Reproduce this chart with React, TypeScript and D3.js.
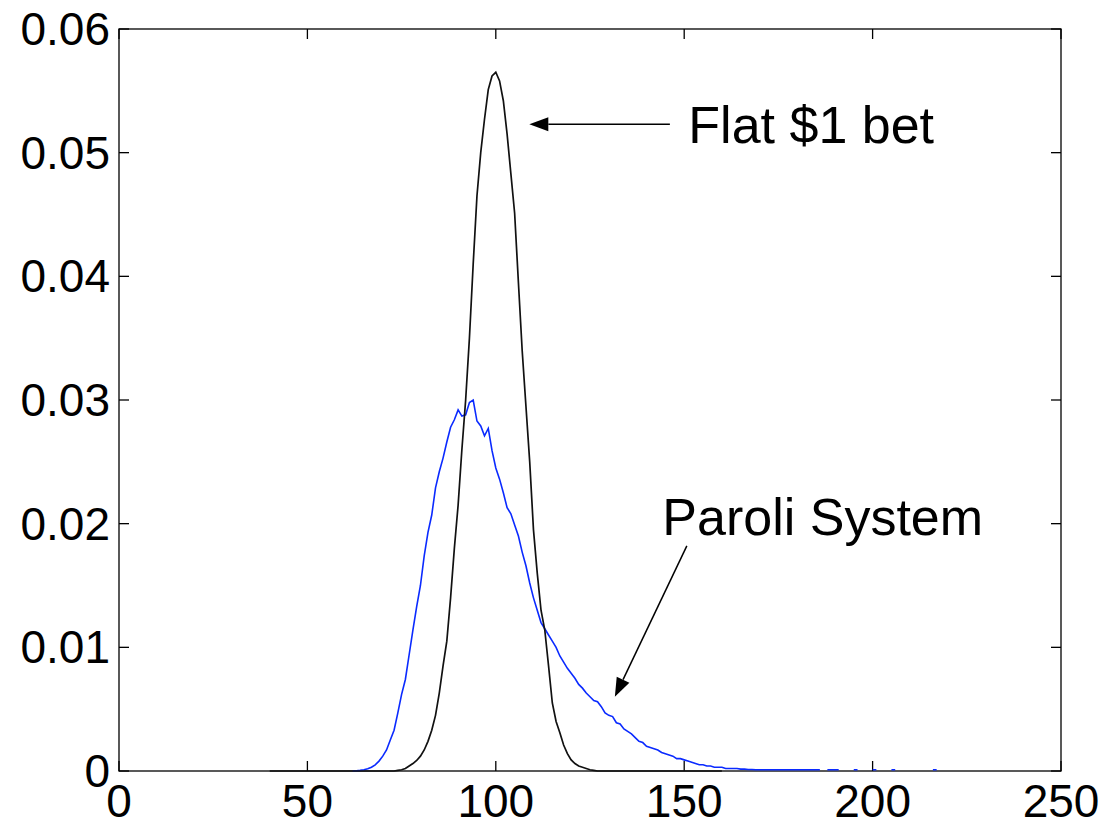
import React, { useEffect, useRef } from "react";
import * as d3 from "d3";

// tick values
const xTicks = [0, 50, 100, 150, 200, 250];
const yTicks = [0, 0.01, 0.02, 0.03, 0.04, 0.05, 0.06];
const yTickLabels = ["0", "0.01", "0.02", "0.03", "0.04", "0.05", "0.06"];

// flat $1 bet distribution, one value per integer bankroll starting at flatStart
const flatStart = 40;
const flatValues = [
  0, 0, 0, 0, 0, 0, 0, 0, 0, 0,
  0, 0, 0, 0, 0, 0, 0, 0, 0, 0,
  0, 0, 0, 0, 0, 0, 0, 0, 0, 0,
  0, 0, 0, 0, 0.00005, 0.0001, 0.0002, 0.0004, 0.0006, 0.00085,
  0.0012, 0.0017, 0.0024, 0.0033, 0.0045, 0.0063, 0.0085, 0.0105, 0.014, 0.018,
  0.0215, 0.026, 0.03, 0.035, 0.041, 0.0465, 0.05, 0.0527, 0.0551, 0.0562,
  0.0565, 0.0558, 0.0542, 0.0515, 0.0483, 0.0451, 0.0395, 0.034, 0.0295, 0.025,
  0.0195, 0.016, 0.013, 0.0114, 0.0085, 0.0055, 0.004, 0.0031, 0.0021, 0.0014,
  0.0009, 0.0006, 0.0004, 0.0003, 0.0002, 0.0001, 0.00005, 0, 0, 0,
  0, 0, 0, 0, 0, 0, 0, 0, 0, 0,
  0, 0, 0, 0, 0, 0, 0, 0, 0, 0,
  0, 0, 0, 0, 0, 0, 0, 0, 0, 0,
  0,
];

// paroli system distribution (null = no samples there)
const paroliStart = 62;
const paroliValues = [
  0, 0.00002, 0.00005, 0.0001, 0.00018, 0.0003, 0.0005, 0.0008, 0.0012, 0.0017,
  0.0025, 0.0033, 0.0047, 0.0062, 0.0074, 0.0094, 0.0114, 0.0133, 0.015, 0.0174,
  0.0193, 0.0207, 0.0229, 0.0242, 0.0253, 0.0266, 0.0278, 0.0284, 0.0292, 0.0287,
  0.0288, 0.0298, 0.03, 0.0283, 0.0279, 0.0271, 0.0277, 0.0259, 0.0245, 0.0236,
  0.0225, 0.0213, 0.0208, 0.0199, 0.019, 0.0177, 0.0166, 0.0152, 0.014, 0.013,
  0.012, 0.0115, 0.011, 0.0105, 0.01, 0.0093, 0.0088, 0.0083, 0.0079, 0.0075,
  0.007, 0.0067, 0.0063, 0.006, 0.0057, 0.0056, 0.0052, 0.0047, 0.0045, 0.0044,
  0.0039, 0.0038, 0.0034, 0.0032, 0.003, 0.0027, 0.0024, 0.0023, 0.002, 0.0019,
  0.0018, 0.0017, 0.0015, 0.0014, 0.0013, 0.0012, 0.001, 0.001, 0.0009, 0.0008,
  0.0007, 0.0006, 0.0005, 0.0005, 0.0004, 0.0004, 0.0003, 0.0003, 0.0003, 0.0002,
  0.0002, 0.0002, 0.0002, 0.00015, 0.00015, 0.00012, 0.00012, 0.0001, 0.0001, 0.0001,
  0.0001, 0.0001, 0.0001, 0.0001, 0.0001, 0.0001, 0.0001, 0.0001, 0.0001, 0.0001,
  0.0001, 0.0001, 0.0001, 0.0001, 0.0001, null, 0.0001, 0.0001, 0.0001, 0.0001,
  null, null, null, 0.0001, 0.0001, null, null, null, 0.0001, 0.0001,
  null, null, null, 0.0001, 0.0001, null, null, null, null, null,
  null, null, null, null, 0.0001, 0.0001, null,
];

const width = 1105;
const height = 823;
const margin = { top: 29, right: 44, bottom: 52, left: 119 };
const font = "'Liberation Sans', Arial, Helvetica, sans-serif";

export default function App() {
  const ref = useRef<SVGSVGElement>(null);

  useEffect(() => {
    const svg = d3.select(ref.current);
    svg.selectAll("*").remove();

    const x = d3.scaleLinear().domain([0, 250]).range([margin.left, width - margin.right]);
    const y = d3.scaleLinear().domain([0, 0.06]).range([height - margin.bottom, margin.top]);
    const [x0, x1] = x.range();
    const [y0, y1] = y.range();
    const tickLen = 10;

    svg.append("rect").attr("width", width).attr("height", height).attr("fill", "#fff");

    // box + inward ticks on all sides (matlab style)
    const axes = svg.append("g").attr("stroke", "#000").attr("stroke-width", 1.3).attr("fill", "none");
    axes.append("rect").attr("x", x0).attr("y", y1).attr("width", x1 - x0).attr("height", y0 - y1);
    xTicks.forEach((t) => {
      axes.append("line").attr("x1", x(t)).attr("x2", x(t)).attr("y1", y0).attr("y2", y0 - tickLen);
      axes.append("line").attr("x1", x(t)).attr("x2", x(t)).attr("y1", y1).attr("y2", y1 + tickLen);
    });
    yTicks.forEach((t) => {
      axes.append("line").attr("x1", x0).attr("x2", x0 + tickLen).attr("y1", y(t)).attr("y2", y(t));
      axes.append("line").attr("x1", x1).attr("x2", x1 - tickLen).attr("y1", y(t)).attr("y2", y(t));
    });

    svg.append("g")
      .selectAll("text")
      .data(xTicks)
      .join("text")
      .attr("x", (d) => x(d))
      .attr("y", y0 + 46)
      .attr("text-anchor", "middle")
      .attr("font-family", font)
      .attr("font-size", 46)
      .text((d) => d);

    svg.append("g")
      .selectAll("text")
      .data(yTicks)
      .join("text")
      .attr("x", x0 - 9)
      .attr("y", (d) => y(d) + 16)
      .attr("text-anchor", "end")
      .attr("font-family", font)
      .attr("font-size", 46)
      .text((d, i) => yTickLabels[i]);

    // blue first, black on top
    const paroliLine = d3
      .line<number | null>()
      .defined((d) => d !== null)
      .x((d, i) => x(paroliStart + i))
      .y((d) => y(d as number));
    svg.append("path")
      .attr("d", paroliLine(paroliValues))
      .attr("fill", "none")
      .attr("stroke", "#0a2aff")
      .attr("stroke-width", 1.6);

    const flatLine = d3
      .line<number>()
      .x((d, i) => x(flatStart + i))
      .y((d) => y(d));
    svg.append("path")
      .attr("d", flatLine(flatValues))
      .attr("fill", "none")
      .attr("stroke", "#111")
      .attr("stroke-width", 1.7);

    // annotations
    const arrow = (from: [number, number], to: [number, number]) => {
      const [fx, fy] = [x(from[0]), y(from[1])];
      const [tx, ty] = [x(to[0]), y(to[1])];
      const len = Math.hypot(tx - fx, ty - fy);
      const ux = (tx - fx) / len;
      const uy = (ty - fy) / len;
      const hl = 19;
      const hw = 7;
      const bx = tx - ux * hl;
      const by = ty - uy * hl;
      svg.append("line")
        .attr("x1", fx).attr("y1", fy).attr("x2", bx).attr("y2", by)
        .attr("stroke", "#000").attr("stroke-width", 1.5);
      svg.append("path")
        .attr("d", `M${tx},${ty}L${bx - uy * hw},${by + ux * hw}L${bx + uy * hw},${by - ux * hw}Z`)
        .attr("fill", "#000");
    };

    arrow([146.2, 0.0523], [108.9, 0.0523]);
    svg.append("text")
      .attr("x", x(151.1)).attr("y", y(0.0508))
      .attr("font-family", font).attr("font-size", 52)
      .text("Flat $1 bet");

    arrow([150.7, 0.0182], [131.6, 0.006]);
    svg.append("text")
      .attr("x", x(144.2)).attr("y", y(0.0191))
      .attr("font-family", font).attr("font-size", 52)
      .text("Paroli System");
  }, []);

  return (
    <svg
      ref={ref}
      width={width}
      height={height}
      style={{ position: "absolute", left: 0, top: 0 }}
    />
  );
}
